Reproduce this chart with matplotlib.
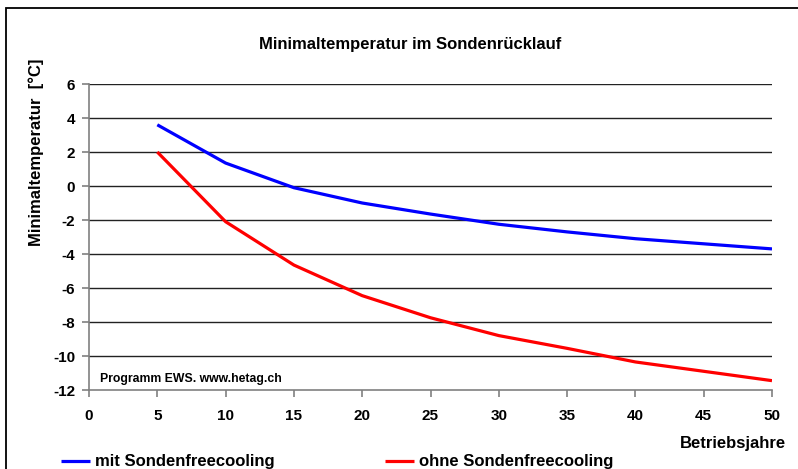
import matplotlib
matplotlib.use("Agg")
import matplotlib.pyplot as plt
from matplotlib.patches import Rectangle
from matplotlib.lines import Line2D

plt.rcParams['font.family'] = ['Liberation Sans', 'DejaVu Sans']
plt.rcParams['font.weight'] = 'bold'

# Betriebsjahre
jahre = [5, 10, 15, 20, 25, 30, 35, 40, 45, 50]
mit_freecooling = [3.6, 1.35, -0.1, -1.0, -1.65, -2.25, -2.7, -3.1, -3.4, -3.7]
ohne_freecooling = [2.0, -2.1, -4.65, -6.45, -7.75, -8.8, -9.55, -10.35, -10.9, -11.45]

x_ticks = list(range(0, 51, 5))
y_ticks = list(range(-12, 7, 2))

W, H = 798, 469
fig = plt.figure(figsize=(W / 100, H / 100), dpi=100)
fig.patch.set_facecolor('white')

# axes placement in pixels: left 89, right 772, top 84, bottom 390
ax = fig.add_axes([89 / W, 1 - 390 / H, (772 - 89) / W, (390 - 84) / H])

ax.plot(jahre, mit_freecooling, color='#0000ff', lw=2.3, solid_capstyle='butt', zorder=3)
ax.plot(jahre, ohne_freecooling, color='#ff0000', lw=2.3, solid_capstyle='butt', zorder=3)

ax.set_xlim(0, 50)
ax.set_ylim(-12, 6)
ax.set_xticks(x_ticks)
ax.set_yticks(y_ticks)
ax.set_xticklabels([str(v) for v in x_ticks], fontsize=11, fontweight='bold')
ax.set_yticklabels([str(v) for v in y_ticks], fontsize=11, fontweight='bold')

for y in y_ticks[1:]:
    ax.axhline(y, color='#222222', lw=1.0, zorder=1)

ax.spines['top'].set_visible(False)
ax.spines['right'].set_visible(False)
ax.spines['left'].set_color('#808080')
ax.spines['bottom'].set_color('#808080')
ax.spines['left'].set_linewidth(1.2)
ax.spines['bottom'].set_linewidth(1.2)
ax.tick_params(axis='both', direction='out', length=5, color='#808080', width=1.2)
ax.tick_params(axis='x', pad=9)
ax.tick_params(axis='y', pad=5)

fig.text(100 / W, 1 - 379 / H, 'Programm EWS. www.hetag.ch',
         fontsize=8.8, fontweight='bold', ha='left', va='center')

fig.text(410 / W, 1 - 44 / H, 'Minimaltemperatur im Sondenrücklauf',
         fontsize=12, fontweight='bold', ha='center', va='center')
fig.text(36 / W, 1 - 152 / H, 'Minimaltemperatur  [°C]', rotation=90,
         fontsize=12, fontweight='bold', ha='center', va='center')
fig.text(786 / W, 1 - 443 / H, 'Betriebsjahre',
         fontsize=12, fontweight='bold', ha='right', va='center')

# legend at the bottom
ly = 1 - 461 / H
fig.add_artist(Line2D([61 / W, 90 / W], [ly, ly], color='#0000ff', lw=2.3,
                      solid_capstyle='butt', transform=fig.transFigure))
fig.text(95 / W, ly, 'mit Sondenfreecooling', fontsize=12, fontweight='bold',
         ha='left', va='center')
fig.add_artist(Line2D([385 / W, 414 / W], [ly, ly], color='#ff0000', lw=2.3,
                      solid_capstyle='butt', transform=fig.transFigure))
fig.text(419 / W, ly, 'ohne Sondenfreecooling', fontsize=12, fontweight='bold',
         ha='left', va='center')

# outer chart frame (runs off the right and bottom edge)
fig.add_artist(Rectangle((6 / W, -0.2), 1.2, 1.2 - 8 / H, transform=fig.transFigure,
                         fill=False, edgecolor='black', lw=1.3))

fig.savefig('out.png', dpi=100)
